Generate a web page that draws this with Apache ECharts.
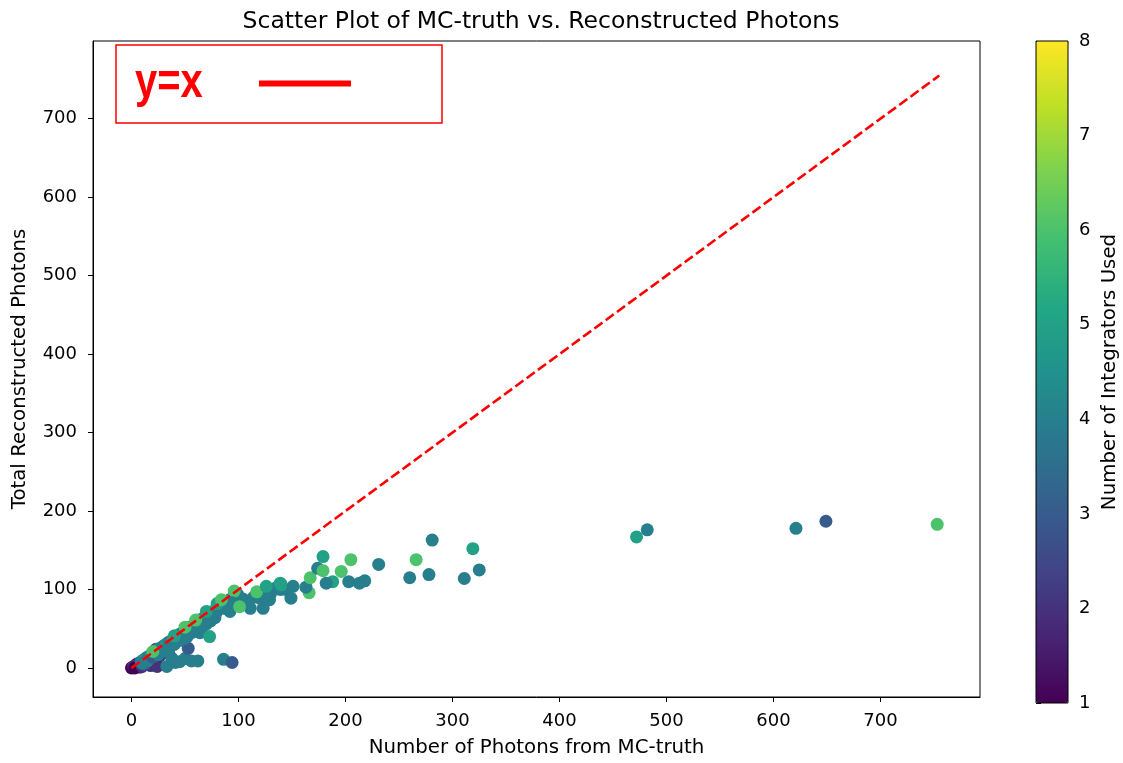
<!DOCTYPE html>
<html>
<head>
<meta charset="utf-8">
<script src="https://cdn.jsdelivr.net/npm/echarts@6/dist/echarts.min.js"></script>
<style>
  html, body { margin: 0; padding: 0; background: #fff; }
  #chart { width: 1123px; height: 763px; }
</style>
</head>
<body>
<div id="chart"></div>
<script>
// Photon counts per event: MC-truth vs. reconstructed, coloured by integrators used
const mcTruth = [
  0, 8, 4, 2, 5, 7, 3, 10, 18, 24, 12, 14, 17, 23, 29, 26, 33, 41, 35, 38, 45, 50, 56, 62, 53, 86, 94,
  9, 11, 13, 15, 17, 19, 21, 23, 25, 27, 29, 31, 33, 35, 37, 39, 41, 43, 45, 47, 49, 51, 53, 55, 57, 59,
  61, 63, 65, 67, 69, 71, 73, 75, 77, 79, 81, 83, 85, 87, 89, 91, 93, 95, 97, 99,
  10, 15, 20, 25, 30, 35, 40, 45, 50, 52, 56, 60, 64, 66, 70, 74, 78, 79, 85, 92, 90, 95, 100, 104, 108,
  114, 118, 125, 130, 135, 144,
  20, 40, 60, 80, 96, 50, 70, 73,
  94, 123, 111, 101, 120, 129, 84, 117, 139, 139, 126, 140, 149, 166, 163, 151, 218, 213, 203, 188, 182,
  167, 174, 179, 179, 196, 205, 231, 311, 260, 278, 325, 266, 319, 281,
  472, 482, 621, 649, 753
];
const reconstructed = [
  0, 1, 3, 2, 5, 6, 0, 2, 3, 2, 5, 11, 13, 24, 19, 15, 2, 7, 18, 12, 8, 12, 9, 9, 25, 11, 7,
  8, 10, 12, 14, 15, 18, 19, 21, 24, 25, 27, 29, 31, 33, 34, 37, 38, 40, 43, 44, 46, 48, 50, 52, 53, 56,
  57, 59, 62, 63, 65, 67, 68, 71, 73, 74, 76, 79, 80, 82, 85, 86, 88, 90, 91, 94,
  6, 9, 14, 17, 22, 26, 30, 35, 38, 40, 45, 48, 45, 52, 56, 60, 64, 70, 76, 72, 75, 80, 85, 88, 84,
  90, 95, 98, 95, 102, 100,
  21, 41, 61, 82, 98, 52, 72, 40,
  83, 76, 76, 78, 89, 87, 87, 97, 100, 108, 104, 106, 89, 96, 103, 104, 111, 108, 110, 110, 108,
  115, 127, 124, 142, 123, 138, 132, 114, 115, 119, 125, 138, 152, 163,
  167, 176, 178, 187, 183
];
const integratorsUsed = [
  1, 2, 1, 2, 2, 2, 1, 2, 2, 2, 3, 4, 3, 2, 2, 2, 4, 4, 3, 4, 4, 4, 4, 4, 3, 4, 3,
  4, 4, 5, 4, 4, 5, 4, 4, 5, 4, 4, 4, 5, 4, 4, 5, 4, 4, 5, 4, 4, 4, 5, 4, 4, 5,
  4, 4, 6, 4, 4, 5, 4, 4, 6, 4, 4, 5, 4, 4, 6, 4, 4, 5, 4, 4,
  4, 4, 3, 4, 4, 4, 4, 4, 4, 4, 4, 4, 4, 4, 4, 4, 4, 4, 4, 4, 4, 4, 4, 4, 4,
  4, 4, 4, 4, 4, 4,
  6, 5, 6, 5, 6, 6, 5, 5,
  4, 4, 4, 6, 4, 4, 6, 6, 4, 5, 5, 5, 4, 6, 4, 4, 4, 4, 4, 5, 4,
  6, 4, 6, 5, 6, 6, 4, 4, 4, 4, 4, 6, 5, 4,
  5, 4, 4, 3, 6
];

// Reference diagonal y = x over the MC-truth range
const diagonalEnds = [0, 755];

const mainTicks = [0, 100, 200, 300, 400, 500, 600, 700];

const viridis = ['#440154', '#482475', '#414487', '#355f8d', '#2a788e', '#21918c',
                 '#22a884', '#44bf70', '#7ad151', '#bddf26', '#fde725'];

const points = mcTruth.map((x, i) => [x, reconstructed[i], integratorsUsed[i]]);
const diagonal = diagonalEnds.map(v => [v, v]);

const font = 'DejaVu Sans';
const chart = echarts.init(document.getElementById('chart'), null, { renderer: 'canvas' });

chart.setOption({
  animation: false,
  backgroundColor: '#fff',
  title: {
    text: 'Scatter Plot of MC-truth vs. Reconstructed Photons',
    left: 536, top: 5, textAlign: 'center',
    textStyle: { fontFamily: font, fontSize: 23.5, fontWeight: 'normal', color: '#000' }
  },
  grid: [
    { left: 93, top: 41, width: 887, height: 660, show: true, borderColor: '#000', borderWidth: 1,
      backgroundColor: 'transparent', z: 5 },
    { left: 1036, top: 41, width: 32, height: 662, show: true, borderColor: '#000', borderWidth: 1,
      backgroundColor: 'transparent', z: 10 }
  ],
  xAxis: [
    {
      gridIndex: 0, type: 'value', min: -36, max: 793,
      name: 'Number of Photons from MC-truth', nameLocation: 'middle', nameGap: 41,
      nameTextStyle: { fontFamily: font, fontSize: 19.8, color: '#000' },
      axisLine: { show: true, onZero: false, lineStyle: { color: '#000' } },
      axisTick: { show: true, customValues: mainTicks, length: 5, lineStyle: { color: '#000' } },
      axisLabel: { customValues: mainTicks, fontFamily: font, fontSize: 18, color: '#000', margin: 15 },
      splitLine: { show: false }
    },
    { gridIndex: 1, type: 'value', min: 0, max: 1, show: false }
  ],
  yAxis: [
    {
      gridIndex: 0, type: 'value', min: -37, max: 799,
      name: 'Total Reconstructed Photons', nameLocation: 'middle', nameGap: 63,
      nameTextStyle: { fontFamily: font, fontSize: 19.8, color: '#000' },
      axisLine: { show: true, onZero: false, lineStyle: { color: '#000' } },
      axisTick: { show: true, customValues: mainTicks, length: 5, lineStyle: { color: '#000' } },
      axisLabel: { customValues: mainTicks, fontFamily: font, fontSize: 18, color: '#000', margin: 16 },
      splitLine: { show: false }
    },
    {
      gridIndex: 1, type: 'value', min: 1, max: 8, interval: 1, position: 'right',
      name: 'Number of Integrators Used', nameLocation: 'middle', nameGap: 32, nameRotate: 90,
      nameTextStyle: { fontFamily: font, fontSize: 19.8, color: '#000' },
      axisLine: { show: false },
      axisTick: { show: true, length: 5, lineStyle: { color: '#000' } },
      axisLabel: { fontFamily: font, fontSize: 18, color: '#000', margin: 11 },
      splitLine: { show: false }
    }
  ],
  visualMap: {
    type: 'continuous', min: 1, max: 8, dimension: 2, seriesIndex: 0,
    calculable: false, hoverLink: false, text: null,
    left: 1036, top: 41, itemWidth: 32, itemHeight: 662, padding: 0,
    inRange: { color: viridis }
  },
  series: [
    {
      type: 'scatter', xAxisIndex: 0, yAxisIndex: 0,
      data: points, symbolSize: 13,
      itemStyle: { opacity: 1 }
    },
    {
      type: 'line', xAxisIndex: 0, yAxisIndex: 0,
      data: diagonal, symbol: 'none', z: 3,
      lineStyle: { color: '#ff0000', width: 2.6, type: [10, 4] }
    }
  ],
  graphic: [
    { type: 'rect', shape: { x: 116, y: 45, width: 326, height: 78 },
      style: { fill: '#fff', stroke: '#ff0000', lineWidth: 1.5 }, z: 20 },
    { type: 'text', x: 135, y: 84, scaleY: 1.2,
      style: { x: 0, y: 0, text: 'y=x', fill: '#ff0000', font: 'bold 40px "Liberation Sans", sans-serif',
               verticalAlign: 'middle' }, z: 21 },
    { type: 'line', shape: { x1: 259, y1: 83.5, x2: 351, y2: 83.5 },
      style: { stroke: '#ff0000', lineWidth: 6 }, z: 21 }
  ]
});
</script>
</body>
</html>
